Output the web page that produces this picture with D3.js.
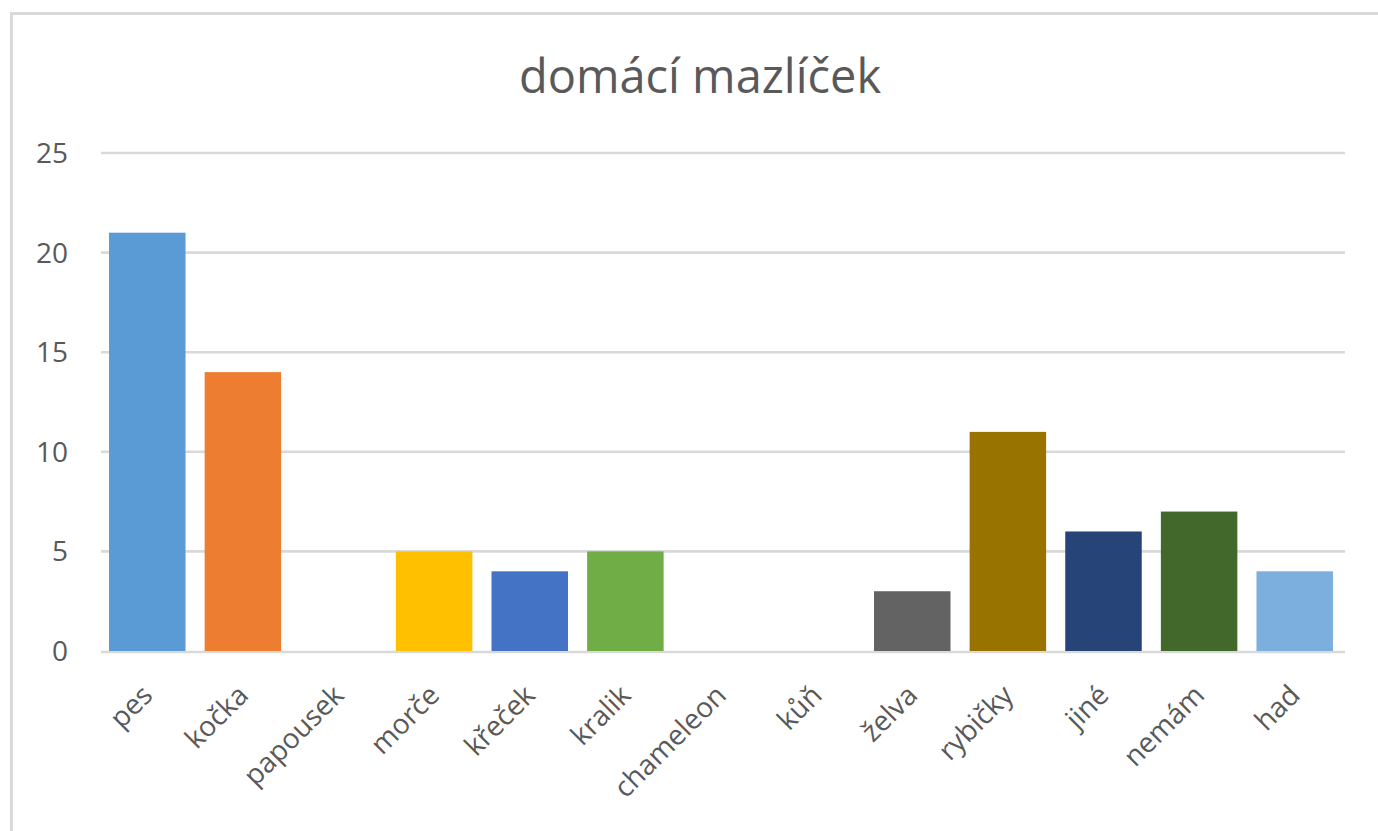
<!DOCTYPE html>
<html lang="cs">
<head>
  <meta charset="UTF-8">
  <title>domácí mazlíček</title>
  <script src="https://d3js.org/d3.v7.min.js"></script>
  <style>
    body { margin: 0; background: #fff; }
    svg text { font-family: "Open Sans", "Noto Sans", sans-serif; fill: #595959; }
  </style>
</head>
<body>
  <svg id="chart" width="1378" height="831"></svg>
  <script>
    // data
    const categories = ["pes", "kočka", "papousek", "morče", "křeček", "kralik", "chameleon", "kůň", "želva", "rybičky", "jiné", "nemám", "had"];
    const values = [21, 14, 0, 5, 4, 5, 0, 0, 3, 11, 6, 7, 4];
    const barColors = ["#5B9BD5", "#ED7D31", "#A5A5A5", "#FFC000", "#4472C4", "#70AD47", "#255E91", "#9E480E", "#636363", "#997300", "#264478", "#43682B", "#7CAFDD"];
    const yTicks = [0, 5, 10, 15, 20, 25];
    const title = "domácí mazlíček";

    const svg = d3.select("#chart");

    // chart frame (runs off the right and bottom edge)
    svg.append("rect")
      .attr("x", 11.5).attr("y", 13.5)
      .attr("width", 1500).attr("height", 1000)
      .attr("fill", "#fff")
      .attr("stroke", "#D9D9D9")
      .attr("stroke-width", 3);

    const x = d3.scaleBand()
      .domain(categories)
      .range([98.5, 1343.5])
      .paddingInner(0.2)
      .paddingOuter(0.11);

    const y = d3.scaleLinear()
      .domain([0, 25])
      .range([651, 153]);

    // gridlines
    svg.append("g")
      .selectAll("line")
      .data(yTicks)
      .join("line")
      .attr("x1", 101).attr("x2", 1345)
      .attr("y1", d => y(d) + (d === 0 ? 1 : 0))
      .attr("y2", d => y(d) + (d === 0 ? 1 : 0))
      .attr("stroke", "#D9D9D9")
      .attr("stroke-width", 2.6);

    // y tick labels
    svg.append("g")
      .selectAll("text")
      .data(yTicks)
      .join("text")
      .attr("x", 68)
      .attr("y", d => y(d))
      .attr("dy", "0.36em")
      .attr("text-anchor", "end")
      .attr("font-size", 28)
      .text(d => d);

    // bars
    svg.append("g")
      .selectAll("rect")
      .data(values)
      .join("rect")
      .attr("x", (d, i) => x(categories[i]))
      .attr("width", x.bandwidth())
      .attr("y", d => y(d))
      .attr("height", d => y(0) - y(d))
      .attr("fill", (d, i) => barColors[i]);

    // category labels, rotated
    svg.append("g")
      .selectAll("text")
      .data(categories)
      .join("text")
      .attr("text-anchor", "end")
      .attr("font-size", 28)
      .attr("transform", d => `translate(${x(d) + x.bandwidth() / 2 + 7},${697}) rotate(-45)`)
      .text(d => d);

    // title
    svg.append("text")
      .attr("x", 700)
      .attr("y", 93)
      .attr("text-anchor", "middle")
      .attr("font-size", 47)
      .text(title);
  </script>
</body>
</html>
